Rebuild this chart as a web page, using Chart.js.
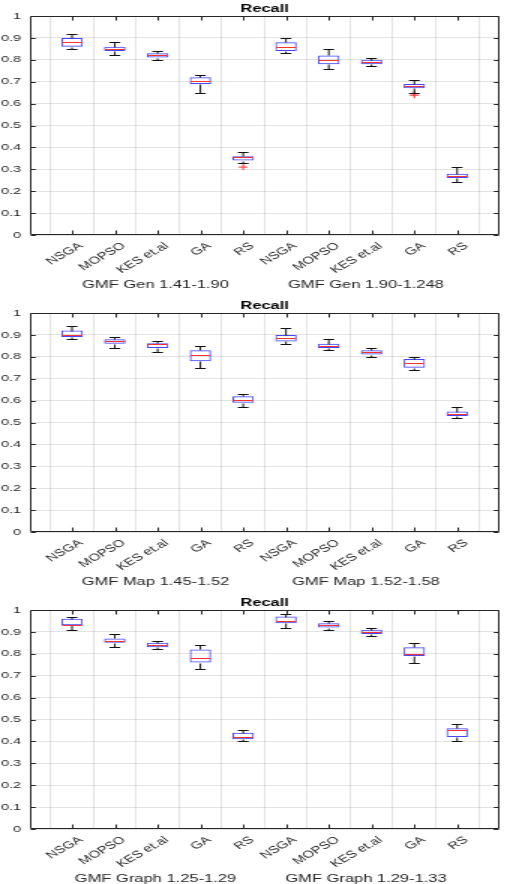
<!DOCTYPE html>
<html><head><meta charset="utf-8">
<script src="https://cdn.jsdelivr.net/npm/chart.js@4.4.0/dist/chart.umd.min.js"></script>
<style>
html,body{margin:0;padding:0;background:#fff;overflow:hidden;width:519px;height:884px}
.panel{position:absolute;left:0;width:519px;height:297px;overflow:hidden}
.panel canvas{transform:scaleX(1.5);transform-origin:0 0;display:block}
</style></head><body>
<div class="panel" style="top:0"><canvas id="c1" width="346" height="297"></canvas></div>
<div class="panel" style="top:297px"><canvas id="c2" width="346" height="297"></canvas></div>
<div class="panel" style="top:594px"><canvas id="c3" width="346" height="297"></canvas></div>
<script>
// ---- data ----
const chartTitle = 'Recall';
const methods = ['NSGA', 'MOPSO', 'KES et.al', 'GA', 'RS'];

const genGroups = ['GMF Gen 1.41-1.90', 'GMF Gen 1.90-1.248'];
const genMin = [0.85, 0.82, 0.80, 0.65, 0.33, 0.83, 0.76, 0.77, 0.65, 0.24];
const genQ1  = [0.86, 0.84, 0.81, 0.69, 0.34, 0.84, 0.78, 0.78, 0.67, 0.26];
const genMed = [0.88, 0.85, 0.82, 0.705, 0.355, 0.86, 0.80, 0.79, 0.68, 0.27];
const genQ3  = [0.90, 0.86, 0.83, 0.72, 0.36, 0.88, 0.82, 0.80, 0.69, 0.28];
const genMax = [0.92, 0.88, 0.84, 0.73, 0.38, 0.90, 0.85, 0.81, 0.71, 0.31];
const genOut = [[], [], [], [], [0.31], [], [], [], [0.645, 0.638], []];

const mapGroups = ['GMF Map 1.45-1.52', 'GMF Map 1.52-1.58'];
const mapMin = [0.88, 0.84, 0.82, 0.75, 0.57, 0.86, 0.83, 0.80, 0.74, 0.52];
const mapQ1  = [0.89, 0.86, 0.84, 0.78, 0.59, 0.87, 0.84, 0.81, 0.75, 0.53];
const mapMed = [0.90, 0.87, 0.857, 0.81, 0.605, 0.888, 0.85, 0.82, 0.77, 0.54];
const mapQ3  = [0.92, 0.88, 0.862, 0.83, 0.62, 0.90, 0.86, 0.83, 0.79, 0.55];
const mapMax = [0.94, 0.89, 0.87, 0.85, 0.63, 0.93, 0.88, 0.84, 0.80, 0.57];
const mapOut = [[], [], [], [], [], [], [], [], [], []];

const graphGroups = ['GMF Graph 1.25-1.29', 'GMF Graph 1.29-1.33'];
const graphMin = [0.91, 0.83, 0.82, 0.73, 0.40, 0.92, 0.91, 0.88, 0.76, 0.40];
const graphQ1  = [0.93, 0.85, 0.83, 0.76, 0.41, 0.94, 0.92, 0.89, 0.79, 0.42];
const graphMed = [0.932, 0.86, 0.84, 0.78, 0.42, 0.95, 0.93, 0.90, 0.80, 0.45];
const graphQ3  = [0.96, 0.87, 0.85, 0.82, 0.44, 0.97, 0.94, 0.91, 0.83, 0.46];
const graphMax = [0.97, 0.89, 0.86, 0.84, 0.45, 0.98, 0.95, 0.92, 0.85, 0.48];
const graphOut = [[], [], [], [], [], [], [], [], [], []];

// ---- style / layout ----
const FONT = '"Liberation Sans", Arial, Helvetica, sans-serif';
const AXIS = '#262626';
const GRID = 'rgba(38,38,38,0.13)';
const BOX_COLOR = 'rgb(70,70,255)';
const MED_COLOR = 'rgb(255,50,50)';
const PLOT_TOP = 16, PLOT_BOTTOM = 235, PLOT_LEFT = 19.5, PLOT_RIGHT_PAD = 4.2;
const GROUP_POS = [2.95, 7.87];
const GROUP_Y = 287.5;

Chart.defaults.font.family = FONT;
Chart.defaults.color = AXIS;

function makePlugin(s) {
  return {
    id: 'boxparts',
    afterDatasetsDraw(chart) {
      const {ctx, scales: {x, y}, chartArea: a} = chart;
      const meta = chart.getDatasetMeta(0);
      const py = v => Math.round(y.getPixelForValue(v)) + 0.5;
      ctx.save();
      ctx.lineWidth = 1;
      for (let i = 0; i < s.med.length; i++) {
        const el = meta.data[i + 1];
        const cx = x.getPixelForValue(i + 1);
        const hw = el.width / 2, cw = el.width / 4;
        ctx.strokeStyle = '#111';
        ctx.beginPath();
        ctx.moveTo(cx, py(s.q3[i])); ctx.lineTo(cx, py(s.max[i]));
        ctx.moveTo(cx - cw, py(s.max[i])); ctx.lineTo(cx + cw, py(s.max[i]));
        ctx.moveTo(cx, py(s.q1[i])); ctx.lineTo(cx, py(s.min[i]));
        ctx.moveTo(cx - cw, py(s.min[i])); ctx.lineTo(cx + cw, py(s.min[i]));
        ctx.stroke();
        ctx.strokeStyle = MED_COLOR;
        ctx.beginPath();
        ctx.moveTo(cx - hw + 0.5, py(s.med[i])); ctx.lineTo(cx + hw - 0.5, py(s.med[i]));
        ctx.stroke();
      }
      // axes frame
      const L = Math.round(a.left) + 0.5, R = Math.round(a.right) - 0.5;
      const T = Math.round(a.top) + 0.5, B = Math.round(a.bottom) - 0.5;
      ctx.strokeStyle = AXIS;
      ctx.beginPath();
      ctx.rect(L, T, R - L, B - T);
      // inward ticks
      for (let i = 1; i <= 10; i++) {
        const tx = Math.round(x.getPixelForValue(i)) + 0.5;
        ctx.moveTo(tx, B); ctx.lineTo(tx, B - 4);
        ctx.moveTo(tx, T); ctx.lineTo(tx, T + 4);
      }
      y.ticks.forEach(t => {
        const ty = py(t.value);
        ctx.moveTo(L, ty); ctx.lineTo(L + 3.3, ty);
        ctx.moveTo(R, ty); ctx.lineTo(R - 3.3, ty);
      });
      ctx.stroke();
      // title
      ctx.fillStyle = '#000';
      ctx.font = 'bold 11px ' + FONT;
      ctx.textAlign = 'center';
      ctx.textBaseline = 'middle';
      ctx.fillText(chartTitle, (a.left + a.right) / 2, 8.5);
      // group labels
      ctx.fillStyle = AXIS;
      ctx.font = '11px ' + FONT;
      ctx.textBaseline = 'alphabetic';
      s.groups.forEach((g, k) => ctx.fillText(g, x.getPixelForValue(GROUP_POS[k]), GROUP_Y));
      ctx.restore();
    }
  };
}

function makeChart(id, groups, mn, q1, med, q3, mx, out) {
  const labels = ['', ...methods, ...methods, ''];
  const boxes = [null, ...q1.map((v, i) => [v, q3[i]]), null];
  const maxOut = Math.max(...out.map(o => o.length));
  const outSets = [];
  for (let k = 0; k < maxOut; k++) {
    outSets.push({
      type: 'line',
      data: [null, ...out.map(o => (o[k] === undefined ? null : o[k])), null],
      showLine: false,
      pointStyle: 'cross',
      pointRadius: 3,
      pointBorderColor: MED_COLOR,
      pointBorderWidth: 1,
      pointBackgroundColor: MED_COLOR,
      order: 0
    });
  }
  return new Chart(document.getElementById(id), {
    type: 'bar',
    data: {
      labels,
      datasets: [{
        data: boxes,
        backgroundColor: 'rgba(0,0,0,0)',
        borderColor: BOX_COLOR,
        borderWidth: 1,
        borderSkipped: false,
        barPercentage: 0.5,
        categoryPercentage: 1,
        order: 1
      }, ...outSets]
    },
    options: {
      responsive: false,
      animation: false,
      devicePixelRatio: 1,
      layout: {padding: {top: PLOT_TOP, left: 0, right: PLOT_RIGHT_PAD, bottom: 0}},
      plugins: {legend: {display: false}, tooltip: {enabled: false}, title: {display: false}},
      scales: {
        x: {
          offset: false,
          grid: {color: GRID, drawTicks: false, lineWidth: 1},
          border: {display: false},
          ticks: {autoSkip: false, minRotation: 40, maxRotation: 40, font: {size: 10}, padding: 5, labelOffset: 6, color: AXIS},
          afterFit(s) { s.height = 297 - PLOT_BOTTOM; }
        },
        y: {
          min: 0, max: 1,
          grid: {color: GRID, drawTicks: false, lineWidth: 1},
          border: {display: false},
          ticks: {stepSize: 0.1, font: {size: 9.5}, padding: 5.5, color: AXIS,
                  callback: v => String(Number(v.toFixed(1)))},
          afterFit(s) { s.width = PLOT_LEFT; }
        }
      }
    },
    plugins: [makePlugin({groups, min: mn, q1, med, q3, max: mx})]
  });
}

makeChart('c1', genGroups, genMin, genQ1, genMed, genQ3, genMax, genOut);
makeChart('c2', mapGroups, mapMin, mapQ1, mapMed, mapQ3, mapMax, mapOut);
makeChart('c3', graphGroups, graphMin, graphQ1, graphMed, graphQ3, graphMax, graphOut);
</script>
</body></html>
